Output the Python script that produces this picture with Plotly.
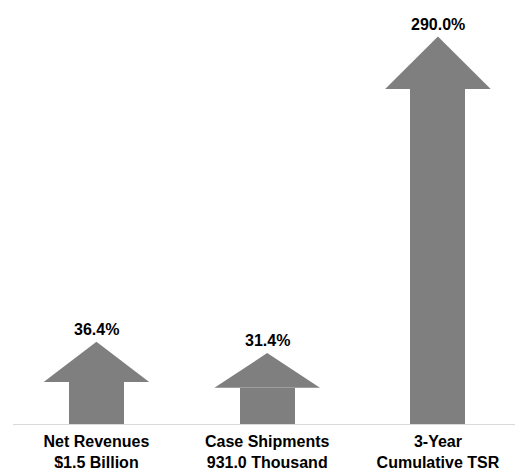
import plotly.graph_objects as go

categories = ["Net Revenues<br>$1.5 Billion", "Case Shipments<br>931.0 Thousand", "3-Year<br>Cumulative TSR"]
values = [36.4, 31.4, 290.0]
value_labels = ["36.4%", "31.4%", "290.0%"]

ARROW_COLOR = "#7f7f7f"
SHAFT_W = 0.322
HEAD_HALF = 0.309
HEAD_RATIO = 0.955
HEAD_MAX = 45.5
FONT = "Liberation Sans, Arial, sans-serif"

pos = list(range(len(categories)))
fig = go.Figure()
fig.add_trace(go.Bar(x=pos, y=values, width=SHAFT_W,
                     marker=dict(color=ARROW_COLOR, line=dict(width=0)),
                     hoverinfo="skip"))
for i, v in zip(pos, values):
    h = min(v * HEAD_RATIO, HEAD_MAX)
    fig.add_trace(go.Scatter(x=[i - HEAD_HALF, i, i + HEAD_HALF, i - HEAD_HALF],
                             y=[v, v + h, v, v], mode="lines", fill="toself",
                             fillcolor=ARROW_COLOR, line=dict(width=0, color=ARROW_COLOR),
                             hoverinfo="skip"))
    fig.add_annotation(x=i, y=v + h, text=value_labels[i], showarrow=False,
                       yanchor="bottom", yshift=2,
                       font=dict(family=FONT, size=16, color="#000000", weight="bold"))

fig.update_layout(
    width=515, height=468,
    margin=dict(l=13, r=0, t=0, b=44, autoexpand=False),
    paper_bgcolor="white", plot_bgcolor="white",
    showlegend=False,
    bargap=0,
    xaxis=dict(range=[-0.4886, 2.4514], tickvals=pos, ticktext=categories,
               showgrid=False, zeroline=False, showline=True, linecolor="#d9d9d9",
               linewidth=1, ticks="outside", ticklen=3, tickcolor="rgba(0,0,0,0)",
               fixedrange=True, automargin=False,
               tickfont=dict(family=FONT, size=16, color="#000000", weight="bold")),
    yaxis=dict(range=[0, 367.1], visible=False, showgrid=False, zeroline=False,
               fixedrange=True, automargin=False),
)
fig.write_html("out.html", config={"displayModeBar": False},
               post_script="document.body.style.margin='0';document.body.style.overflow='hidden';")
